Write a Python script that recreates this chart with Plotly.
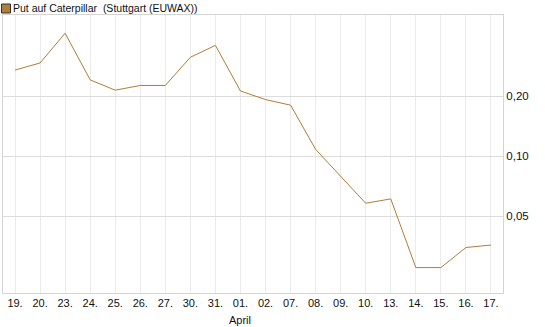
import plotly.graph_objects as go
import math

dates = ["19.", "20.", "23.", "24.", "25.", "26.", "27.", "30.", "31.", "01.",
         "02.", "07.", "08.", "09.", "10.", "13.", "14.", "15.", "16.", "17."]
values = [0.27, 0.293, 0.413, 0.241, 0.214, 0.226, 0.226, 0.313, 0.359, 0.212,
          0.192, 0.180, 0.108, 0.079, 0.058, 0.061, 0.0276, 0.0276, 0.0348, 0.0358]
ytick_vals = [0.05, 0.10, 0.20]
ytick_text = ["0,05", "0,10", "0,20"]
series_name = "Put auf Caterpillar  (Stuttgart (EUWAX))"
month_label = "April"

line_color = "#b07d3a"
font = "Liberation Sans, Arial, sans-serif"
txt = "#111"

x_idx = list(range(len(dates)))

fig = go.Figure()
fig.add_trace(go.Scatter(x=x_idx, y=values, mode="lines",
                         line=dict(color=line_color, width=1),
                         showlegend=False, hoverinfo="skip"))

fig.update_layout(
    width=545, height=327,
    margin=dict(l=3, r=42, t=15, b=34),
    paper_bgcolor="white", plot_bgcolor="white",
    font=dict(family=font, size=11, color=txt),
    xaxis=dict(
        range=[-0.48, len(dates) - 1 + 0.48],
        tickmode="array", tickvals=x_idx, ticktext=dates,
        showgrid=True, gridcolor="#ebebeb", gridwidth=1,
        showline=True, linecolor="#d4d4d4", mirror=True,
        ticks="", zeroline=False, tickfont=dict(size=11, color=txt),
    ),
    yaxis=dict(
        type="log", side="right",
        range=[math.log10(0.02058), math.log10(0.5098)],
        tickmode="array", tickvals=ytick_vals, ticktext=ytick_text,
        showgrid=True, gridcolor="#dcdcdc", gridwidth=1,
        showline=True, linecolor="#d4d4d4", mirror=True,
        ticks="", zeroline=False, tickfont=dict(size=11.5, color=txt),
    ),
)

fig.add_shape(type="rect", xref="paper", yref="paper",
              x0=-1.5/500, x1=7.5/500, y0=1 + 2/278, y1=1 + 11/278,
              fillcolor=line_color, line=dict(color="#333", width=1))
fig.add_annotation(text=series_name, xref="paper", yref="paper",
                   x=8/500, y=1 + 15/278, xanchor="left", yanchor="top",
                   showarrow=False, font=dict(size=10.5, color=txt))
fig.add_annotation(text=month_label, xref="x", yref="paper",
                   x=9, y=-27/278, xanchor="center", yanchor="middle",
                   showarrow=False, font=dict(size=11, color=txt))

fig.write_html("out.html")
